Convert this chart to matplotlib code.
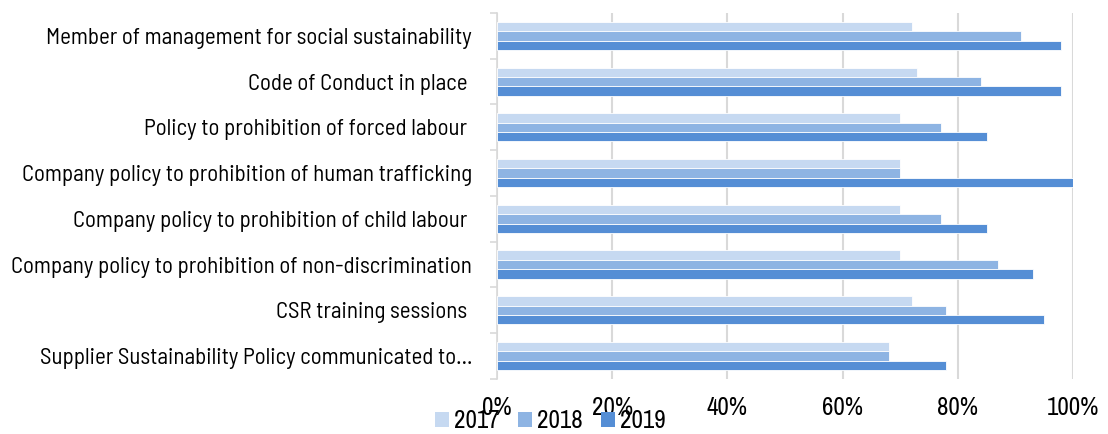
import numpy as np
import matplotlib
matplotlib.use('Agg')
import matplotlib.pyplot as plt
from matplotlib.patches import Patch

plt.rcParams['font.family'] = ['Barlow Semi Condensed', 'DejaVu Sans']
narrow = ['Archivo Narrow', 'DejaVu Sans']

categories = [
    'Member of management for social sustainability',
    'Code of Conduct in place ',
    'Policy to prohibition of forced labour ',
    'Company policy to prohibition of human trafficking',
    'Company policy to prohibition of child labour ',
    'Company policy to prohibition of non-discrimination',
    'CSR training sessions ',
    'Supplier Sustainability Policy communicated to\u2026',
]
years = ['2017', '2018', '2019']
v2017 = [0.72, 0.73, 0.70, 0.70, 0.70, 0.70, 0.72, 0.68]
v2018 = [0.91, 0.84, 0.77, 0.70, 0.77, 0.87, 0.78, 0.68]
v2019 = [0.98, 0.98, 0.85, 1.00, 0.85, 0.93, 0.95, 0.78]
colors = ['#C6D9F1', '#8EB4E3', '#558ED5']

fig = plt.figure(figsize=(11.08, 4.34), dpi=100)
ax = fig.add_axes([0.4486, 0.127, 0.5198, 0.843])

n = len(categories)
y = np.arange(n)
h = 0.205
for i, (vals, c) in enumerate(zip([v2017, v2018, v2019], colors)):
    ax.barh(y + (i - 1) * h, vals, height=h, color=c, edgecolor='white',
            linewidth=0.6, zorder=3, label=years[i])

ax.set_ylim(n - 0.5, -0.5)
ax.set_xlim(0, 1.0)
xt = np.arange(0, 1.01, 0.2)
ax.set_xticks(xt)
ax.set_xticklabels([f'{int(round(t * 100))}%' for t in xt], family=narrow, fontsize=18)
ax.set_yticks(y)
ax.set_yticklabels(categories)
ax.set_yticks(np.arange(-0.5, n, 1.0), minor=True)
ax.tick_params(axis='y', which='major', length=0, pad=18, labelsize=16.5)
ax.tick_params(axis='y', which='minor', length=5, width=1.2, color='#D9D9D9')
ax.tick_params(axis='x', length=0, pad=12)

ax.grid(axis='x', color='#D9D9D9', linewidth=1.5, zorder=0)
for s in ['top', 'right', 'bottom']:
    ax.spines[s].set_visible(False)
ax.spines['left'].set_color('#D9D9D9')
ax.spines['left'].set_linewidth(1.2)

handles = [Patch(facecolor=c, label=l) for c, l in zip(colors, years)]
fig.legend(handles=handles, loc='lower left', bbox_to_anchor=(0.3926, 0.004),
           ncol=3, frameon=False, prop={'family': narrow, 'size': 18},
           handlelength=0.55, handleheight=0.55, handletextpad=0.2,
           columnspacing=0.75, borderpad=0, borderaxespad=0)

fig.savefig('out.png', dpi=100)
